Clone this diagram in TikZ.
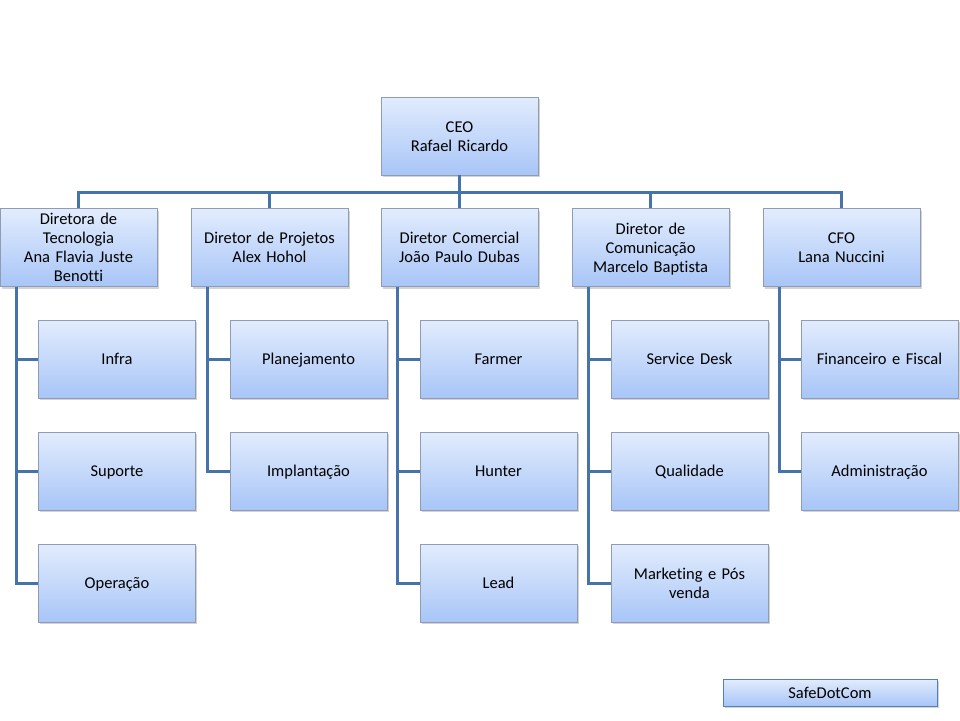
\documentclass[tikz,border=0pt]{standalone}
\usepackage{fontspec}
\setmainfont{Carlito}[Ligatures=CommonOff]
\usetikzlibrary{shadows}
\definecolor{boxtop}{HTML}{E2ECFD}
\definecolor{boxbot}{HTML}{A8C5F7}
\definecolor{boxline}{HTML}{8E9DB3}
\definecolor{conn}{HTML}{4673AA}
\definecolor{brand}{HTML}{4F81BD}
\newcommand\bxstrut{\rule[-3pt]{0pt}{17.5pt}}
\tikzset{
  box/.style={draw=boxline, line width=0.8pt, top color=boxtop, bottom color=boxbot,
    minimum width=157pt, minimum height=78pt, text width=155pt, align=center,
    inner sep=0pt, font=\fontsize{16.5}{19}\selectfont,
    execute at begin node=\bxstrut, execute at end node=\bxstrut,
    drop shadow={opacity=0.35, shadow xshift=1.5pt, shadow yshift=-2pt}},
  link/.style={draw=conn, line width=3pt},
  brandbox/.style={draw=brand, line width=1pt, top color=boxtop, bottom color=boxbot,
    minimum width=214pt, minimum height=27pt, inner sep=0pt,
    font=\fontsize{16.5}{19}\selectfont,
    execute at begin node=\bxstrut,
    drop shadow={opacity=0.35, shadow xshift=1.5pt, shadow yshift=-2pt}}
}
\begin{document}
\begin{tikzpicture}[x=1pt,y=-1pt]
\useasboundingbox (0,0) rectangle (960,720);
\coordinate (bus) at (0,192);
\node[box] (ceo) at (459.5,136) {CEO\\Rafael Ricardo};
\node[box] (d1) at (78.5,247.5) {Diretora de\\Tecnologia\\Ana Flavia Juste\\Benotti};
\node[box] (d2) at (269.5,247.5) {Diretor de Projetos\\Alex Hohol};
\node[box] (d3) at (459.5,247.5) {Diretor Comercial\\João Paulo Dubas};
\node[box] (d4) at (650.5,247.5) {Diretor de\\Comunicação\\Marcelo Baptista};
\node[box] (d5) at (841.5,247.5) {CFO\\Lana Nuccini};
% children
\node[box] (c11) at (117,359) {Infra};
\node[box] (c12) at (117,471) {Suporte};
\node[box] (c13) at (117,583) {Operação};
\node[box] (c21) at (308.5,359) {Planejamento};
\node[box] (c22) at (308.5,471) {Implantação};
\node[box] (c31) at (498.5,359) {Farmer};
\node[box] (c32) at (498.5,471) {Hunter};
\node[box] (c33) at (498.5,583) {Lead};
\node[box] (c41) at (689.5,359) {Service Desk};
\node[box] (c42) at (689.5,471) {Qualidade};
\node[box] (c43) at (689.5,583) {Marketing e Pós\\venda};
\node[box] (c51) at (879.5,359) {Financeiro e Fiscal};
\node[box] (c52) at (879.5,471) {Administração};
\node[brandbox] (brand) at (830,692.5) {SafeDotCom};
% top connectors
\draw[link] (ceo.south) -- (ceo.south |- bus);
\draw[link] ([xshift=-1.5pt]d1.north |- bus) -- ([xshift=1.5pt]d5.north |- bus);
\foreach \d in {d1,d2,d3,d4,d5}{
  \draw[link] (\d.north |- bus) -- (\d.north);
}
% spines
\foreach \p/\last/\kids in {d1/c13/{c11,c12,c13}, d2/c22/{c21,c22}, d3/c33/{c31,c32,c33}, d4/c43/{c41,c42,c43}, d5/c52/{c51,c52}}{
  \coordinate (sp) at ([xshift=17pt]\p.south west);
  \draw[link] (sp) |- (\last.west);
  \foreach \k in \kids {\draw[link] (\k.west) -- (\k.west -| sp);}
}
\end{tikzpicture}
\end{document}
